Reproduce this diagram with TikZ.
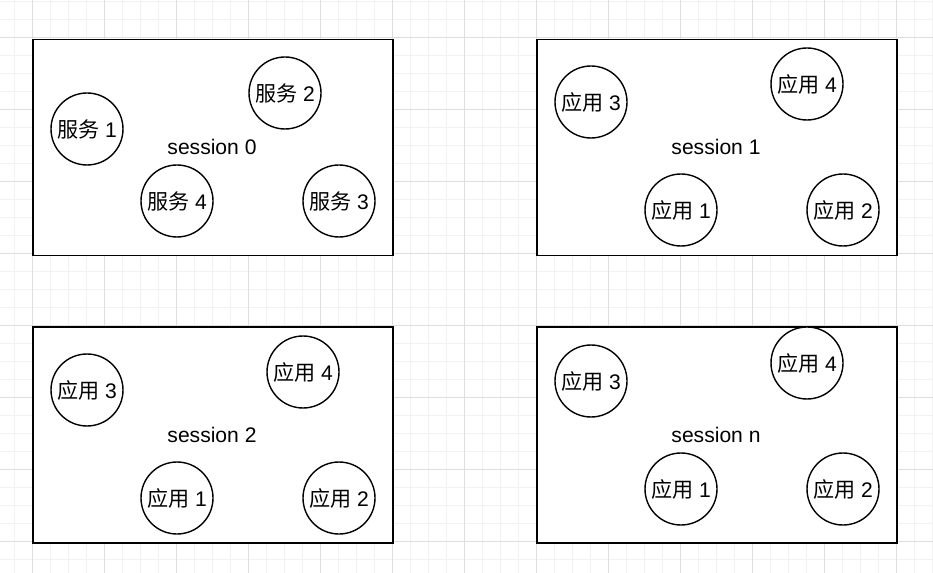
\documentclass[tikz,border=0pt]{standalone}
\usepackage{fontspec}
\setmainfont{Liberation Sans}
\newfontfamily\cjk{Noto Sans CJK SC}
\usetikzlibrary{positioning}

\begin{document}
\begin{tikzpicture}[x=0.03cm, y=-0.03cm,
		sessbox/.style={draw, line width=1.2pt, fill=white, minimum width=10.8cm, minimum height=6.48cm},
		proc/.style={draw, circle, line width=1.2pt, fill=white, minimum size=2.16cm, inner sep=0pt, font=\fontsize{18}{21}\selectfont},
		label/.style={font=\fontsize{18}{21}\selectfont}]
		
		\useasboundingbox (0,0) rectangle (933,573);
		
		% Draw the grid
		\foreach \x in {14,32,...,932} \draw[color=black!5, line width=0.7pt] (\x,0) -- (\x,573);
		\foreach \y in {1,19,...,572} \draw[color=black!5, line width=0.7pt] (0,\y) -- (933,\y);
		\foreach \x in {32,104,...,932} \draw[color=black!13, line width=0.7pt] (\x,0) -- (\x,573);
		\foreach \y in {37,109,...,572} \draw[color=black!13, line width=0.7pt] (0,\y) -- (933,\y);
		
		% Draw the boxes
		\node[sessbox] (s0) at (213,147.5) {};
		\node[sessbox] (s1) at (717,147.5) {};
		\node[sessbox] (s2) at (213,435) {};
		\node[sessbox] (sn) at (717,435) {};
		
		% Session 0
		\node[label] (l0) at (212,147) {session 0};
		\node[proc] (f1) at (87,129) {{\cjk 服务} 1};
		\node[proc] (f2) at (285,93) {{\cjk 服务} 2};
		\node[proc] (f4) at (177,201) {{\cjk 服务} 4};
		\node[proc] (f3) at (339,201) {{\cjk 服务} 3};
		
		% Session 1
		\node[label] (l1) at (716,147) {session 1};
		\node[proc] (a13) at (591,102) {{\cjk 应用} 3};
		\node[proc] (a14) at (807,84) {{\cjk 应用} 4};
		\node[proc] (a11) at (681,210) {{\cjk 应用} 1};
		\node[proc] (a12) at (843,210) {{\cjk 应用} 2};
		
		% Session 2
		\node[label] (l2) at (212,435) {session 2};
		\node[proc] (a23) at (87,390) {{\cjk 应用} 3};
		\node[proc] (a24) at (303,372) {{\cjk 应用} 4};
		\node[proc] (a21) at (177,498) {{\cjk 应用} 1};
		\node[proc] (a22) at (339,498) {{\cjk 应用} 2};
		
		% Session n
		\node[label] (ln) at (716,435) {session n};
		\node[proc] (an3) at (591,381) {{\cjk 应用} 3};
		\node[proc] (an4) at (807,363) {{\cjk 应用} 4};
		\node[proc] (an1) at (681,489) {{\cjk 应用} 1};
		\node[proc] (an2) at (843,489) {{\cjk 应用} 2};
		
	\end{tikzpicture}
\end{document}
